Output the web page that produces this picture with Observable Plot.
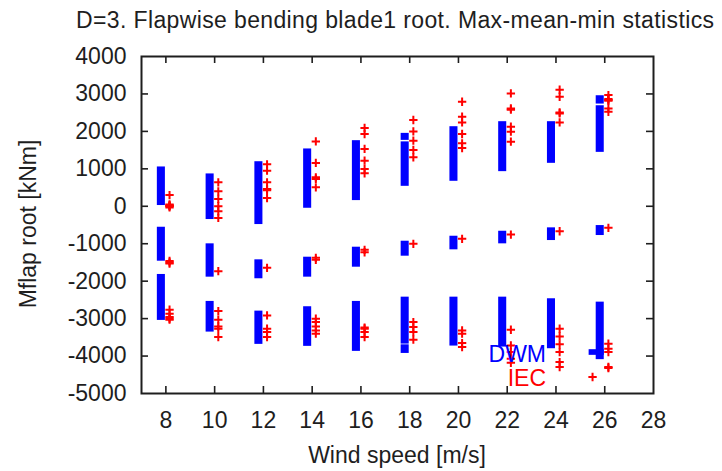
<!DOCTYPE html>
<html>
<head>
<meta charset="utf-8">
<script src="https://cdn.jsdelivr.net/npm/d3@7"></script>
<script src="https://cdn.jsdelivr.net/npm/@observablehq/plot@0.6"></script>
<style>
  html, body { margin: 0; padding: 0; background: #fff; }
  svg { display: block; }
</style>
</head>
<body>
<div id="chart"></div>
<script>
// ---- text ----
const titleText = "D=3. Flapwise bending blade1 root. Max-mean-min statistics";
const xLabel = "Wind speed [m/s]";
const yLabel = "Mflap root [kNm]";
const legendNames = ["DWM", "IEC"];

// ---- axes ----
const xTicks = [8, 10, 12, 14, 16, 18, 20, 22, 24, 26, 28];
const yTicks = [-5000, -4000, -3000, -2000, -1000, 0, 1000, 2000, 3000, 4000];

// ---- DWM (blue): ranges of max / mean / min statistics per wind speed ----
const dwmSpeed = [8, 8, 8, 10, 10, 10, 12, 12, 12, 14, 14, 14, 16, 16, 16,
                  18, 18, 18, 18, 18, 20, 20, 20, 22, 22, 22, 24, 24, 24, 26, 26, 26, 26];
const dwmLow   = [20, -1467, -3048,  -354, -1893, -3360,  -488, -1936, -3688,  -53, -1893, -3741,  152, -1627, -3875,
                  533, 1760, -1333, -3680, -3930,  667, -1163, -3733,  925, -1003, -3760,  1147, -915, -3804,
                  1440, 2730, -781, -4096];
const dwmHigh  = [1050, -560, -1821,  864, -1003, -2541,  1190, -1430, -2800,  1531, -1360, -2683,  1752, -1093, -2541,
                  1720, 1947, -933, -2427, -3700,  2125, -800, -2427,  2259, -667, -2427,  2259, -576, -2470,
                  2685, 2952, -515, -2560];
// stray DWM samples at 26 m/s lying left of the column
const dwmStrayFrom = [25.36];
const dwmStrayTo = [25.98];
const dwmStrayLow = [-3981];
const dwmStrayHigh = [-3830];

// ---- IEC (red +): individual statistics per wind speed ----
const iecSpeeds = [8, 10, 12, 14, 16, 18, 20, 22, 24, 26];
const iecValues = [
  [300, 50, 30, 10, 0, -30, -1460, -1500, -1530, -2763, -2869, -2960, -3000, -3029],
  [640, 400, 197, 0, -133, -310, -1733, -2800, -3029, -3208, -3270, -3493],
  [1120, 950, 640, 460, 430, 220, -1643, -2915, -3270, -3360, -3493],
  [1733, 1157, 773, 730, 507, -1376, -1430, -3003, -3093, -3208, -3315, -3403],
  [2091, 1931, 1531, 1219, 997, 880, -1163, -1227, -3240, -3270, -3360, -3493],
  [2304, 2000, 1752, 1504, 1307, -1003, -3093, -3227, -3360, -3563],
  [2792, 2392, 2240, 1931, 1680, 1557, -870, -3315, -3403, -3653, -3760],
  [3013, 2613, 2579, 2125, 1992, 1725, -755, -3297, -3715, -3893, -4070, -4180],
  [3112, 2925, 2507, 2480, 2240, -667, -3270, -3475, -3688, -3893, -4160, -4293],
  [2970, 2864, 2840, 2819, 2613, 2525, -576, -3670, -3803, -3893, -4293, -4320]
];
// one IEC sample plotted at 25.5 m/s
const iecOutlierSpeed = [25.5];
const iecOutlierValue = [-4560];

// ---- build tables ----
const dwm = dwmSpeed.map((s, i) => ({s, lo: dwmLow[i], hi: dwmHigh[i]}));
const stray = dwmStrayFrom.map((a, i) => ({a, b: dwmStrayTo[i], lo: dwmStrayLow[i], hi: dwmStrayHigh[i]}));
const iec = iecSpeeds.flatMap((s, i) => iecValues[i].map(v => ({x: s + 0.15, v})))
  .concat(iecOutlierSpeed.map((s, i) => ({x: s, v: iecOutlierValue[i]})));

const W = 722, H = 471;
const mL = 141, mR = 69, mT = 56, mB = 78;
const xDom = [7, 28], yDom = [-5000, 4000];
const tickPx = 7;
const yPerPx = (yDom[1] - yDom[0]) / (H - mT - mB);
const xPerPx = (xDom[1] - xDom[0]) / (W - mL - mR);
const innerX = xTicks.filter(t => t > xDom[0] && t < xDom[1]);
const innerY = yTicks.filter(t => t > yDom[0] && t < yDom[1]);

const BLUE = "#0000ff", RED = "#ff0000", INK = "#1e1e1e";
const FONT = "'Liberation Sans', Arial, Helvetica, sans-serif";

const chart = Plot.plot({
  width: W, height: H,
  marginLeft: mL, marginRight: mR, marginTop: mT, marginBottom: mB,
  x: {domain: xDom, label: null},
  y: {domain: yDom, label: null},
  style: {fontFamily: FONT, fontSize: "23px", color: INK, background: "#fff", overflow: "visible"},
  marks: [
    Plot.rect(dwm, {x1: d => d.s - 0.35, x2: d => d.s - 0.02, y1: "lo", y2: "hi", fill: BLUE}),
    Plot.rect(stray, {x1: "a", x2: "b", y1: "lo", y2: "hi", fill: BLUE}),
    Plot.dot(iec, {x: "x", y: "v", symbol: "plus", r: 2.8, stroke: RED, strokeWidth: 2}),
    Plot.frame({stroke: INK, strokeWidth: 2}),
    // inward ticks
    Plot.ruleX(innerX, {x: d => d, y1: yDom[0], y2: yDom[0] + tickPx * yPerPx, stroke: INK, strokeWidth: 1.6}),
    Plot.ruleX(innerX, {x: d => d, y1: yDom[1], y2: yDom[1] - tickPx * yPerPx, stroke: INK, strokeWidth: 1.6}),
    Plot.ruleY(innerY, {y: d => d, x1: xDom[0], x2: xDom[0] + tickPx * xPerPx, stroke: INK, strokeWidth: 1.6}),
    Plot.ruleY(innerY, {y: d => d, x1: xDom[1], x2: xDom[1] - tickPx * xPerPx, stroke: INK, strokeWidth: 1.6}),
    Plot.axisX({ticks: xTicks, tickSize: 0, tickPadding: 18, label: null, tickFormat: d => String(d), fontSize: 23}),
    Plot.axisY({ticks: yTicks, tickSize: 0, tickPadding: 15, label: null, tickFormat: d => String(d), fontSize: 23})
  ]
});

const svg = d3.select(chart);
svg.append("text").attr("x", 76).attr("y", 28).attr("text-anchor", "start")
  .attr("textLength", 638).attr("lengthAdjust", "spacing")
  .attr("fill", INK).attr("font-size", 23).attr("font-family", FONT).text(titleText);
svg.append("text").attr("x", 397).attr("y", 463).attr("text-anchor", "middle")
  .attr("fill", INK).attr("font-size", 23).attr("font-family", FONT).text(xLabel);
svg.append("text").attr("transform", "translate(35.5,224) rotate(-90)").attr("text-anchor", "middle")
  .attr("fill", INK).attr("font-size", 23).attr("font-family", FONT).text(yLabel);
svg.append("text").attr("x", 546).attr("y", 362).attr("text-anchor", "end")
  .attr("fill", BLUE).attr("font-size", 23).attr("font-family", FONT).text(legendNames[0]);
svg.append("text").attr("x", 546).attr("y", 386).attr("text-anchor", "end")
  .attr("fill", RED).attr("font-size", 23).attr("font-family", FONT).text(legendNames[1]);

document.getElementById("chart").appendChild(chart);
</script>
</body>
</html>
